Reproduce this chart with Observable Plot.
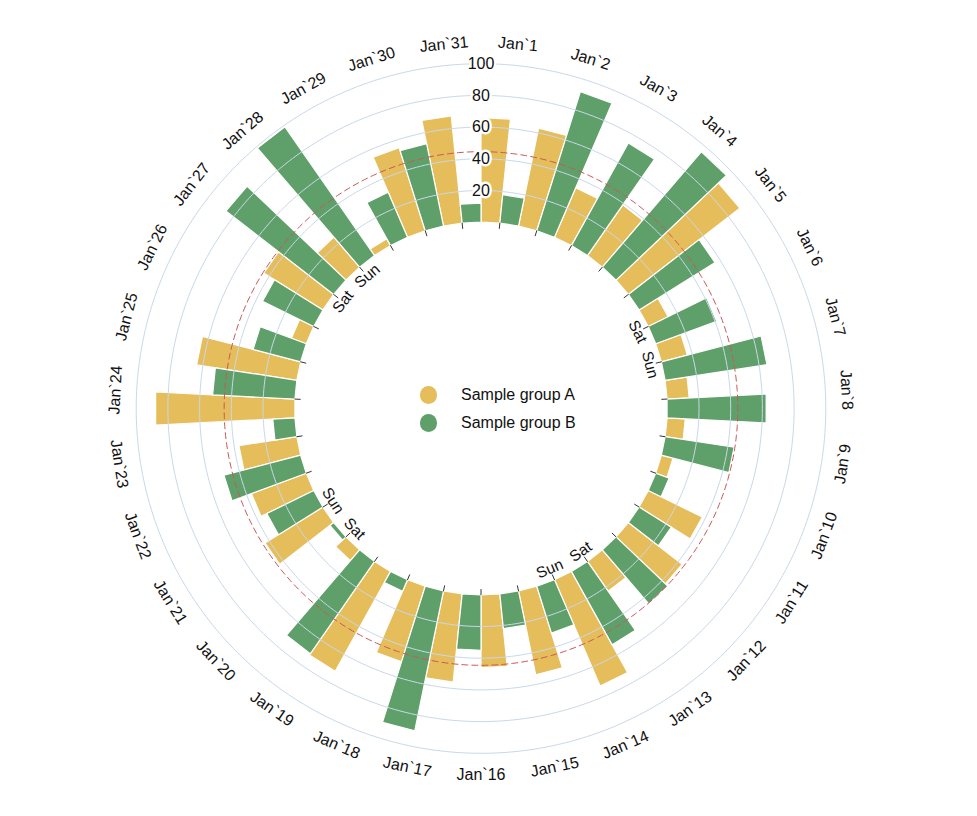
<!DOCTYPE html>
<html><head><meta charset="utf-8">
<script src="https://cdn.jsdelivr.net/npm/d3@7"></script>
<script src="https://cdn.jsdelivr.net/npm/@observablehq/plot@0.6"></script>
<style>
body{margin:0;background:#fff;font-family:"Liberation Sans",Arial,sans-serif;}
#wrap{position:relative;width:977px;height:816px;}
#legend{position:absolute;left:419.8px;top:381.2px;font-size:16px;color:#111;}
.item{display:flex;align-items:center;height:27.7px;}
.sw{width:17.7px;height:17.7px;border-radius:50%;margin-right:23.5px;}
</style></head><body><div id="wrap"><div id="legend"></div></div>
<script>
const days = ["Jan`1","Jan`2","Jan`3","Jan`4","Jan`5","Jan`6","Jan`7","Jan`8","Jan`9","Jan`10","Jan`11","Jan`12","Jan`13","Jan`14","Jan`15","Jan`16","Jan`17","Jan`18","Jan`19","Jan`20","Jan`21","Jan`22","Jan`23","Jan`24","Jan`25","Jan`26","Jan`27","Jan`28","Jan`29","Jan`30","Jan`31"];
const groupA = [66,63,34,39,89,14,17,14,11.5,7.6,38,43,23,73,54,46,56,50,72,9,43,37,37,88,64,10,44,25,5,55,68];
const groupB = [18,92,74,96,56.5,41,65,62.6,44,9,24,45,53,31,22,35,90,8,71,3,33,50,14,52,31,36,86,99,31,53,12];
const weekendDays = ["Jan`6","Jan`7","Jan`13","Jan`14","Jan`20","Jan`21","Jan`27","Jan`28"];
const weekendNames = ["Sat","Sun","Sat","Sun","Sat","Sun","Sat","Sun"];
const radialTicks = [20,40,60,80,100];
const referenceValue = 44.5;
const seriesKeys = ["A","B"];
const seriesNames = ["Sample group A","Sample group B"];
const seriesColors = ["#e6bd5b","#5f9f69"];

const W = 977, H = 816;
const center = [480.5, 408];
const radius = d3.scaleLinear([0, 100], [186.3, 344.8]);
const angleBand = d3.scaleBand(days, [0, 360]);
const groupBand = d3.scaleBand(seriesKeys, [0, angleBand.bandwidth()]);
const mid = d => angleBand(d) + angleBand.bandwidth() / 2;
const rot = a => (a > 90 && a < 270) ? a - 180 : a;

const polar = d3.geoTransform({
  point(a, v) {
    const t = a * Math.PI / 180, r = radius(v);
    this.stream.point(center[0] + r * Math.sin(t), center[1] - r * Math.cos(t));
  }
});

function bars(values, g) {
  return values.map((v, i) => {
    const a0 = angleBand(days[i]) + groupBand(g), a1 = a0 + groupBand.bandwidth();
    return {type: "Polygon", coordinates: [[[a0, 0], [a0, v], [a1, v], [a1, 0], [a0, 0]]]};
  });
}
const ring = v => ({type: "LineString", coordinates: d3.range(0, 361, 1).map(a => [a, v])});
const tickLines = days.map(d => ({type: "LineString", coordinates: [[mid(d), 0], [mid(d), radius.invert(181)]]}));

const chart = Plot.plot({
  width: W, height: H, margin: 0,
  projection: polar,
  style: {fontFamily: '"Liberation Sans", Arial, sans-serif', background: "white"},
  marks: [
    Plot.geo(bars(groupA, "A"), {fill: seriesColors[0], stroke: "white", strokeWidth: 1.2}),
    Plot.geo(bars(groupB, "B"), {fill: seriesColors[1], stroke: "white", strokeWidth: 1.2}),
    Plot.geo(radialTicks.map(ring), {stroke: "#c9d8ea", strokeWidth: 1}),
    Plot.geo([ring(referenceValue)], {stroke: "#c9585a", strokeWidth: 1, strokeDasharray: "6,4"}),
    Plot.geo(tickLines, {stroke: "#333", strokeWidth: 1}),
    Plot.text(days, {x: d => mid(d), y: () => radius.invert(366), text: d => d, rotate: d => rot(mid(d)), fontSize: 16, fill: "#111"}),
    Plot.text(weekendDays, {x: d => mid(d), y: () => radius.invert(174.5), text: (d, i) => weekendNames[i], rotate: d => rot(mid(d)), fontSize: 15.5, fill: "#111"}),
    Plot.text(radialTicks, {x: () => 0, y: d => d, text: d => String(d), fontSize: 16, fill: "#111", stroke: "white", strokeWidth: 5})
  ]
});
document.getElementById("wrap").prepend(chart);

const legend = document.getElementById("legend");
seriesNames.forEach((n, i) => {
  const it = document.createElement("div"); it.className = "item";
  const sw = document.createElement("div"); sw.className = "sw"; sw.style.background = seriesColors[i];
  const tx = document.createElement("span"); tx.textContent = n;
  it.append(sw, tx); legend.append(it);
});
</script></body></html>
